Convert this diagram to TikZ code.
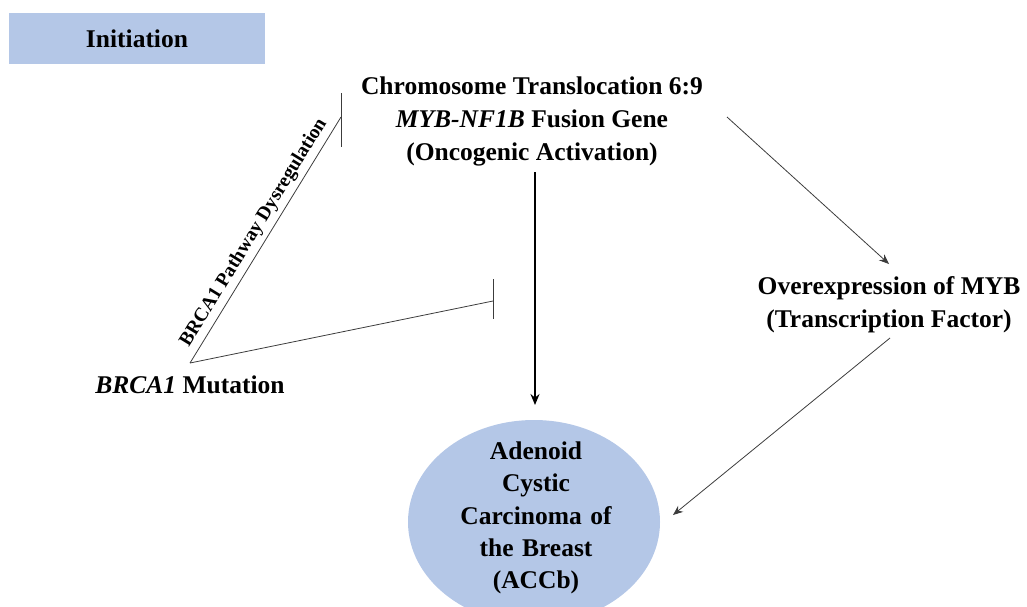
\documentclass[tikz,border=0pt]{standalone}
\usepackage{fontspec}
\setmainfont{Liberation Serif}
\usetikzlibrary{arrows.meta,shapes.geometric}
\definecolor{paleblue}{RGB}{180,199,231}
\definecolor{linegray}{RGB}{60,60,60}
\tikzset{
  lbl/.style={font=\bfseries\fontsize{25.5}{33}\selectfont, align=center, inner sep=0pt, text=black},
  thinarrow/.style={draw=linegray, line width=0.8pt, -{Stealth[length=10pt,width=8pt]}},
  thickarrow/.style={draw=black, line width=1.6pt, -{Stealth[length=11pt,width=9pt]}},
  inhib/.style={draw=linegray, line width=0.8pt},
}
\begin{document}
\begin{tikzpicture}[x=1pt,y=-1pt]
\useasboundingbox (0,0) rectangle (1027,606);
\begin{scope}
\clip (0,0) rectangle (1027,606);
% Initiation box
\node[fill=paleblue, minimum width=256pt, minimum height=51pt, inner sep=0pt, font=\bfseries\fontsize{25.5}{30}\selectfont] (init) at (137,38.5) {Initiation};
% Texts
\node[lbl] (chrom) at (532,121) {Chromosome Translocation 6:9\\\textit{MYB-NF1B} Fusion Gene\\(Oncogenic Activation)};
\node[lbl] (myb) at (889,305) {Overexpression of MYB\\(Transcription Factor)};
\node[lbl] (brca) at (190,385) {\textit{BRCA1} Mutation};
% Ellipse
\node[ellipse, fill=paleblue, minimum width=252pt, minimum height=204pt, inner sep=0pt] (accb) at (534,522) {};
\node[lbl, text width=240pt, font=\bfseries\fontsize{25.5}{32.2}\selectfont] (accbtxt) at (536,518) {Adenoid\\Cystic\\Carcinoma of\\the Breast\\(ACCb)};
\end{scope}
% coordinates
\coordinate (vtx) at (190,363);
\coordinate (bar1) at (341,117);
\coordinate (bar1a) at (341,93);
\coordinate (bar1b) at (341,147);
\coordinate (bar2) at (493,301);
\coordinate (bar2a) at (493,279);
\coordinate (bar2b) at (493,319);
\coordinate (vs) at (535,172);
\coordinate (ve) at (535,405);
\coordinate (d1s) at (727,117);
\coordinate (d1e) at (889,264);
\coordinate (d2s) at (890,338);
\coordinate (d2e) at (673,515);
% connectors
\draw[thickarrow] (vs) -- (ve);
\draw[thinarrow] (d1s) -- (d1e);
\draw[thinarrow] (d2s) -- (d2e);
\draw[inhib] (vtx) -- node[sloped, above=1pt, font=\bfseries\fontsize{19.5}{22}\selectfont, text=black] (plabel) {BRCA1 Pathway Dysregulation} (bar1);
\draw[inhib] (bar1a) -- (bar1b);
\draw[inhib] (vtx) -- (bar2);
\draw[inhib] (bar2a) -- (bar2b);
\end{tikzpicture}
\end{document}
